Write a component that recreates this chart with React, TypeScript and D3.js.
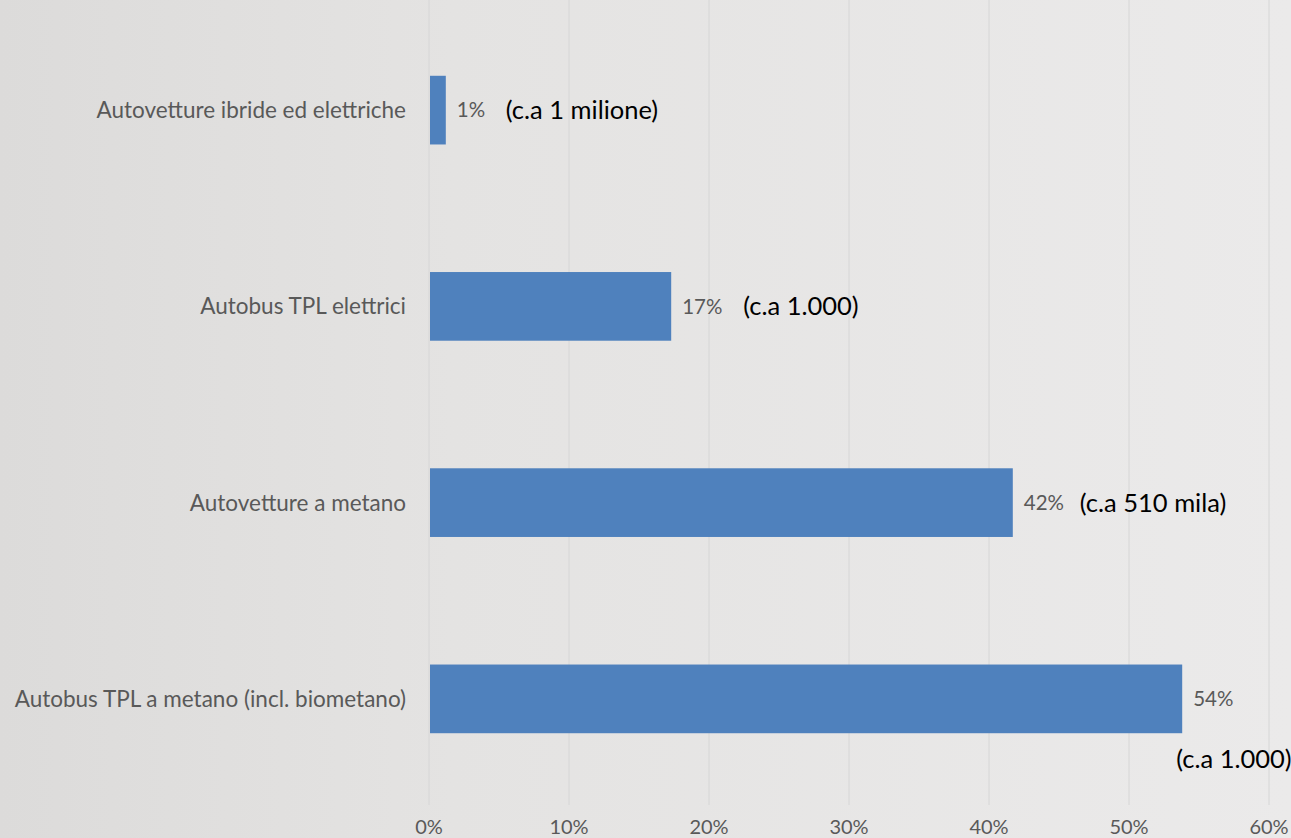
import React from "react";
import * as d3 from "d3";

const categories = [
  "Autovetture ibride ed elettriche",
  "Autobus TPL elettrici",
  "Autovetture a metano",
  "Autobus TPL a metano (incl. biometano)",
];
const values = [1.2, 17.3, 41.7, 53.8];
const valueLabels = ["1%", "17%", "42%", "54%"];
const annotations = ["(c.a 1 milione)", "(c.a 1.000)", "(c.a 510 mila)", "(c.a 1.000)"];
const xTicks = [0, 10, 20, 30, 40, 50, 60];

// layout offsets for annotations (relative to bar end / bar center)
const annotationLayout = [
  { dx: 60, dy: 0 },
  { dx: 72, dy: 0 },
  { dx: 67, dy: 0 },
  { dx: -6, dy: 60 },
];

const W = 1291;
const H = 838;
const FONT = "Lato, 'Open Sans', sans-serif";

export default function App() {
  const x = d3.scaleLinear().domain([0, 60]).range([429, 1269]);
  const y = d3.scaleBand<string>().domain(categories).range([12, 797]).paddingInner(0.65).paddingOuter(0.325);
  const bh = y.bandwidth();

  return (
    <svg
      width={W}
      height={H}
      style={{ position: "absolute", left: 0, top: 0, display: "block" }}
    >
      <defs>
        <linearGradient id="bg" x1="0" y1="0" x2="1" y2="0">
          <stop offset="0" stopColor="#dcdbda" />
          <stop offset="0.35" stopColor="#e4e3e2" />
          <stop offset="1" stopColor="#ebeaea" />
        </linearGradient>
      </defs>
      <rect x={0} y={0} width={W} height={H} fill="url(#bg)" />
      {xTicks.map((t) => (
        <line key={"g" + t} x1={x(t)} x2={x(t)} y1={0} y2={805} stroke="#d6d6d6" strokeWidth={1} />
      ))}
      {categories.map((c, i) => {
        const y0 = y(c)!;
        const xe = x(values[i]);
        const cy = y0 + bh / 2;
        return (
          <g key={c}>
            <rect x={x(0) + 1} y={y0} width={xe - x(0) - 1} height={bh} fill="#4f81bd" />
            <text x={406} y={cy} dy="0.35em" textAnchor="end" fontFamily={FONT} fontSize={22.5} fill="#595959">
              {c}
            </text>
            <text x={xe + 11} y={cy} dy="0.35em" fontFamily={FONT} fontSize={20.5} fill="#595959">
              {valueLabels[i]}
            </text>
            <text
              x={xe + annotationLayout[i].dx}
              y={cy + annotationLayout[i].dy}
              dy="0.35em"
              fontFamily={FONT}
              fontSize={25.5}
              fill="#000000"
            >
              {annotations[i]}
            </text>
          </g>
        );
      })}
      {xTicks.map((t) => (
        <text key={"t" + t} x={x(t)} y={834} textAnchor="middle" fontFamily={FONT} fontSize={20} fill="#595959">
          {t + "%"}
        </text>
      ))}
    </svg>
  );
}
